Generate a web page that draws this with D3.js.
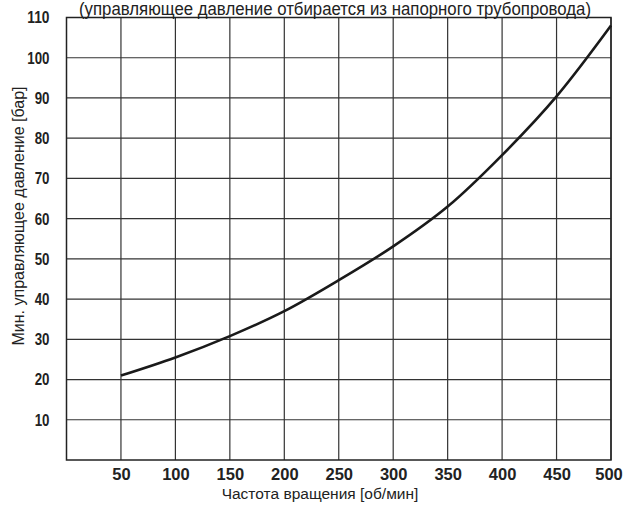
<!DOCTYPE html>
<html><head><meta charset="utf-8">
<script src="https://cdn.jsdelivr.net/npm/d3@7"></script>
<style>body{margin:0;background:#fff}svg{display:block}</style>
</head><body>
<script>
const title = "(управляющее давление отбирается из напорного трубопровода)";
const xLabel = "Частота вращения [об/мин]";
const yLabel = "Мин. управляющее давление [бар]";
const xTicks = [50,100,150,200,250,300,350,400,450,500];
const yTicks = [10,20,30,40,50,60,70,80,90,100,110];
const speed = [50,100,150,200,250,300,350,400,450,500];
const pressure = [21,25.5,30.8,37,44.7,53.1,63,75.8,90.4,108];

const W=625,H=505;
const m={l:66.5,r:14,t:17.5,b:45};
const svg=d3.select("body").append("svg").attr("width",W).attr("height",H);
const x=d3.scaleLinear().domain([0,500]).range([m.l,W-m.r]);
const y=d3.scaleLinear().domain([0,110]).range([H-m.b,m.t]);
const font="'Liberation Sans', Arial, sans-serif";

// grid
svg.append("g").selectAll("line").data(xTicks).join("line")
  .attr("x1",d=>x(d)).attr("x2",d=>x(d)).attr("y1",y(0)).attr("y2",y(110))
  .attr("stroke","#333").attr("stroke-width",1.2);
svg.append("g").selectAll("line").data(yTicks).join("line")
  .attr("x1",x(0)).attr("x2",x(500)).attr("y1",d=>y(d)).attr("y2",d=>y(d))
  .attr("stroke","#333").attr("stroke-width",1.2);
svg.append("rect").attr("x",x(0)).attr("y",y(110)).attr("width",x(500)-x(0)).attr("height",y(0)-y(110))
  .attr("fill","none").attr("stroke","#222").attr("stroke-width",1.5);

// axes labels via d3 axes
const ax=svg.append("g").attr("transform",`translate(0,${y(0)})`)
  .call(d3.axisBottom(x).tickValues(xTicks).tickSize(0).tickPadding(8.5));
ax.select(".domain").remove();
ax.selectAll("text").attr("font-family",font).attr("font-size",16.5).attr("font-weight","bold").attr("fill","#222");
ax.selectAll(".tick").filter(d=>d===500).select("text").attr("dx",-2.5);
const ay=svg.append("g").attr("transform",`translate(${x(0)-17},0)`)
  .call(d3.axisLeft(y).tickValues(yTicks).tickSize(0).tickPadding(0));
ay.select(".domain").remove();
ay.selectAll("text").attr("font-family",font).attr("font-size",17).attr("font-weight","bold").attr("fill","#222")
  .attr("textLength",d=>String(d).length*7.4).attr("lengthAdjust","spacingAndGlyphs");

// curve
const data=speed.map((s,i)=>[s,pressure[i]]);
svg.append("path").datum(data)
  .attr("d",d3.line().x(d=>x(d[0])).y(d=>y(d[1])).curve(d3.curveCatmullRom.alpha(0.5)))
  .attr("fill","none").attr("stroke","#1a1a1a").attr("stroke-width",2.6);

// texts
svg.append("text").attr("x",335).attr("y",14.5).attr("text-anchor","middle")
  .attr("font-family",font).attr("font-size",17.5).attr("fill","#222")
  .attr("textLength",512).attr("lengthAdjust","spacingAndGlyphs").text(title);
svg.append("text").attr("x",320).attr("y",499).attr("text-anchor","middle")
  .attr("font-family",font).attr("font-size",15.5).attr("fill","#222").text(xLabel);
svg.append("text").attr("transform","translate(24,216) rotate(-90)").attr("text-anchor","middle")
  .attr("font-family",font).attr("font-size",16).attr("fill","#222").text(yLabel);
</script>
</body></html>
